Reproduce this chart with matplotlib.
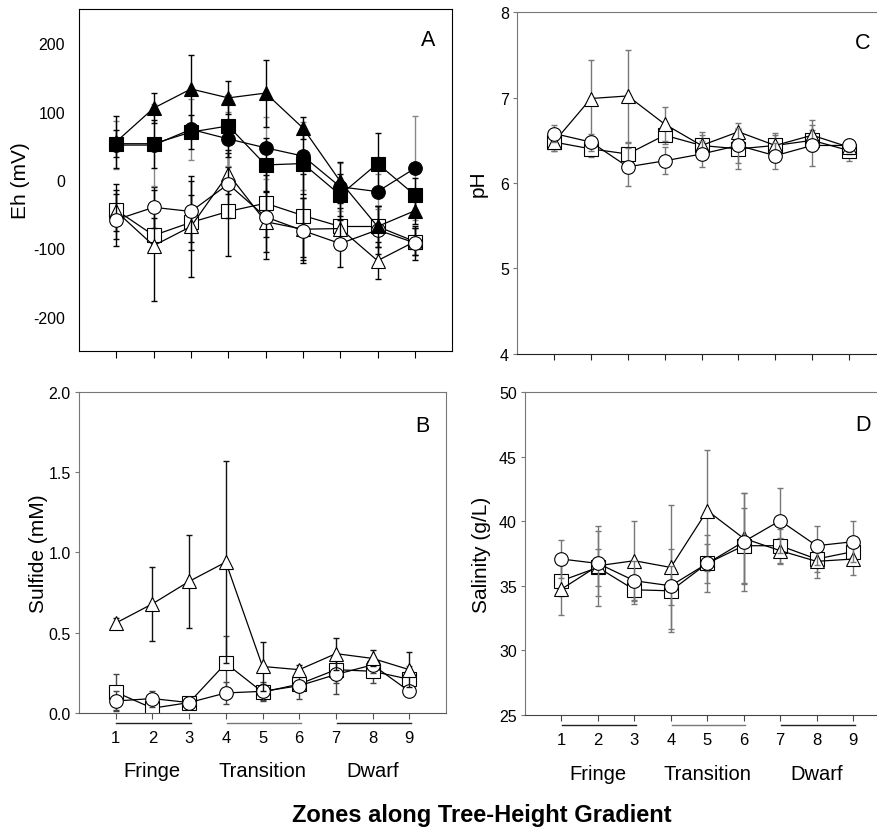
import numpy as np
import matplotlib
matplotlib.use('Agg')
import matplotlib.pyplot as plt
import matplotlib.transforms as mtrans

plt.rcParams['font.family'] = ['Liberation Sans', 'DejaVu Sans']
plt.rcParams['axes.unicode_minus'] = False

zones = np.arange(1, 10)
zone_names = ['Fringe', 'Transition', 'Dwarf']
zone_spans = [(1, 3), (4, 6), (7, 9)]

# panel A - Eh (mV)
eh_tri_f = [56, 105, 133, 120, 127, 76, -2, -68, -45]
eh_tri_f_sd = [38, 22, 49, 24, 49, 16, 29, 30, 20]
eh_sq_f = [53, 53, 70, 79, 22, 24, -22, 24, -22]
eh_sq_f_sd = [20, 35, 25, 45, 40, 45, 30, 44, 25]
eh_ci_f = [51, 51, 74, 60, 47, 35, -10, -17, 17]
eh_ci_f_sd = [35, 60, 45, 40, 45, 50, 35, 25, 76]
eh_sq_o = [-44, -81, -62, -46, -34, -52, -68, -68, -90]
eh_sq_o_sd = [30, 25, 40, 65, 50, 60, 35, 30, 20]
eh_tri_o = [-46, -96, -68, 9, -61, -72, -71, -118, -90]
eh_tri_o_sd = [40, 81, 74, 30, 45, 45, 30, 27, 20]
eh_ci_o = [-58, -40, -46, -6, -54, -74, -93, -73, -92]
eh_ci_o_sd = [38, 30, 45, 50, 61, 48, 34, 35, 25]

# panel B - sulfide (mM)
sul_tri = [0.56, 0.68, 0.82, 0.94, 0.29, 0.27, 0.37, 0.34, 0.27]
sul_tri_sd = [0.03, 0.23, 0.29, 0.63, 0.15, 0.03, 0.10, 0.05, 0.11]
sul_sq = [0.13, 0.03, 0.065, 0.31, 0.13, 0.18, 0.27, 0.26, 0.21]
sul_sq_sd = [0.11, 0.03, 0.02, 0.17, 0.05, 0.05, 0.08, 0.07, 0.08]
sul_ci = [0.075, 0.09, 0.065, 0.125, 0.135, 0.17, 0.24, 0.30, 0.135]
sul_ci_sd = [0.06, 0.05, 0.02, 0.07, 0.06, 0.08, 0.12, 0.05, 0.03]

# panel C - pH
ph_tri = [6.48, 6.99, 7.02, 6.69, 6.44, 6.60, 6.44, 6.56, 6.42]
ph_tri_sd = [0.10, 0.45, 0.54, 0.20, 0.12, 0.10, 0.12, 0.18, 0.08]
ph_sq = [6.48, 6.40, 6.34, 6.56, 6.44, 6.40, 6.44, 6.50, 6.38]
ph_sq_sd = [0.10, 0.10, 0.13, 0.10, 0.16, 0.23, 0.15, 0.12, 0.12]
ph_ci = [6.58, 6.48, 6.19, 6.26, 6.34, 6.44, 6.32, 6.44, 6.44]
ph_ci_sd = [0.10, 0.10, 0.22, 0.16, 0.15, 0.20, 0.15, 0.24, 0.08]

# panel D - salinity (g/L)
sal_tri = [34.74, 36.55, 36.94, 36.42, 40.82, 38.67, 37.72, 36.89, 37.07]
sal_tri_sd = [2.0, 3.1, 3.1, 4.8, 4.65, 3.5, 1.0, 1.3, 1.2]
sal_sq = [35.39, 36.42, 34.69, 34.61, 36.73, 38.10, 38.10, 37.07, 37.64]
sal_sq_sd = [1.2, 1.4, 1.1, 3.2, 1.5, 2.9, 1.3, 1.0, 1.0]
sal_ci = [37.07, 36.73, 35.39, 35.00, 36.73, 38.41, 40.04, 38.10, 38.41]
sal_ci_sd = [1.5, 2.5, 1.5, 1.5, 2.2, 3.8, 2.5, 1.5, 1.6]

MS = 9.8


def series(ax, y, sd, marker, filled, ecolor, z):
    fc = 'black' if filled else 'white'
    ax.errorbar(zones, y, yerr=sd, fmt='none', ecolor=ecolor, elinewidth=1.0,
                capsize=2.5, capthick=1.0, zorder=z)
    ax.plot(zones, y, color='black', lw=0.9, marker=marker, ms=MS,
            mfc=fc, mec='black', mew=0.8, zorder=z + 0.5)


def style(ax, spine_col, bottom_col):
    ax.set_xlim(0, 10)
    ax.set_xticks(zones)
    for s in ['left', 'top', 'right']:
        ax.spines[s].set_color(spine_col)
    ax.spines['bottom'].set_color(bottom_col)
    ax.tick_params(axis='x', direction='out', length=4, width=0.8, color=bottom_col)
    ax.tick_params(axis='y', direction='out', length=3, width=0.8, color=spine_col,
                   labelsize=11.5, pad=3)


def zone_axis(ax):
    ax.tick_params(axis='x', labelsize=12, pad=8)
    tr = mtrans.blended_transform_factory(ax.transData, ax.transAxes)
    for (a, b), name, col in zip(zone_spans, zone_names, ['#222222', '#777777', '#222222']):
        ax.plot([a + 0.02, b + 0.05], [-0.032, -0.032], color=col, lw=1.0,
                transform=tr, clip_on=False)
        ax.text((a + b) / 2, -0.18, name, transform=tr, ha='center', va='center',
                fontsize=14.5)


fig = plt.figure(figsize=(8.78, 8.29), dpi=100)

# A
axA = fig.add_axes([0.090, 0.5754, 0.425, 0.4126])
series(axA, eh_sq_o, eh_sq_o_sd, 's', False, 'black', 2)
series(axA, eh_tri_o, eh_tri_o_sd, '^', False, 'black', 3)
series(axA, eh_ci_o, eh_ci_o_sd, 'o', False, 'black', 4)
series(axA, eh_ci_f, eh_ci_f_sd, 'o', True, '#888888', 5)
series(axA, eh_sq_f, eh_sq_f_sd, 's', True, 'black', 6)
series(axA, eh_tri_f, eh_tri_f_sd, '^', True, 'black', 7)
style(axA, 'black', 'black')
axA.set_ylim(-250, 250)
axA.set_yticks([-200, -100, 0, 100, 200])
axA.tick_params(axis='y', length=0, pad=10)
axA.tick_params(axis='x', labelbottom=False, length=5)
axA.set_ylabel('Eh (mV)', fontsize=15, labelpad=2)
axA.text(0.936, 0.912, 'A', transform=axA.transAxes, ha='center', va='center', fontsize=15.5)

# C
axC = fig.add_axes([0.589, 0.572, 0.420, 0.412])
series(axC, ph_sq, ph_sq_sd, 's', False, '#777777', 2)
series(axC, ph_tri, ph_tri_sd, '^', False, '#777777', 3)
series(axC, ph_ci, ph_ci_sd, 'o', False, '#777777', 4)
style(axC, '#777777', '#222222')
axC.set_ylim(4, 8)
axC.set_yticks([4, 5, 6, 7, 8])
axC.tick_params(axis='x', labelbottom=False)
axC.set_ylabel('pH', fontsize=15, labelpad=9)
axC.text(0.938, 0.912, 'C', transform=axC.transAxes, ha='center', va='center', fontsize=15.5)

# B
axB = fig.add_axes([0.090, 0.1387, 0.418, 0.3873])
series(axB, sul_sq, sul_sq_sd, 's', False, '#444444', 2)
series(axB, sul_ci, sul_ci_sd, 'o', False, '#444444', 3)
series(axB, sul_tri, sul_tri_sd, '^', False, '#111111', 4)
style(axB, '#777777', '#555555')
axB.set_ylim(0, 2.0)
axB.set_yticks([0, 0.5, 1.0, 1.5, 2.0])
axB.set_yticklabels(['0.0', '0.5', '1.0', '1.5', '2.0'])
axB.set_ylabel('Sulfide (mM)', fontsize=15, labelpad=0)
axB.text(0.935, 0.894, 'B', transform=axB.transAxes, ha='center', va='center', fontsize=15.5)
zone_axis(axB)

# D
axD = fig.add_axes([0.598, 0.1363, 0.415, 0.3897])
series(axD, sal_sq, sal_sq_sd, 's', False, '#777777', 2)
series(axD, sal_tri, sal_tri_sd, '^', False, '#777777', 3)
series(axD, sal_ci, sal_ci_sd, 'o', False, '#777777', 4)
style(axD, '#777777', '#444444')
axD.set_ylim(25, 50)
axD.set_yticks([25, 30, 35, 40, 45, 50])
axD.set_ylabel('Salinity (g/L)', fontsize=15, labelpad=6)
axD.text(0.928, 0.9, 'D', transform=axD.transAxes, ha='center', va='center', fontsize=15.5)
zone_axis(axD)

fig.text(0.549, 0.0085, 'Zones along Tree-Height Gradient', ha='center', va='baseline',
         fontsize=17, fontweight='bold')

fig.savefig('out.png', dpi=100)
